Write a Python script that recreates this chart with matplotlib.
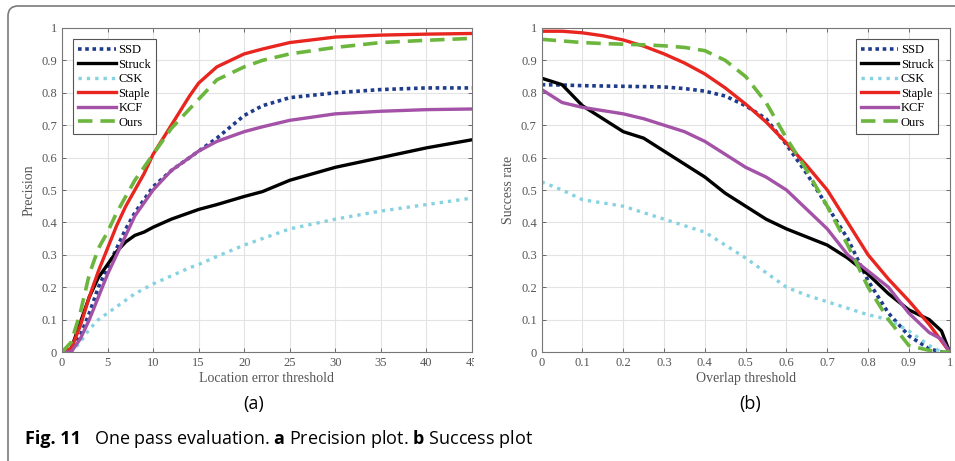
import numpy as np
import matplotlib
matplotlib.use("Agg")
import matplotlib.pyplot as plt
from matplotlib.patches import FancyBboxPatch, Rectangle
from matplotlib.transforms import IdentityTransform

names = ["SSD", "Struck", "CSK", "Staple", "KCF", "Ours"]
colors = ["#1f3c8c", "#000000", "#86d2e0", "#e8251e", "#a352a8", "#6cb63e"]
styles = [(0, (1, 1)), "-", (0, (1, 1.5)), "-", "-", (0, (4, 2.2))]
widths = [2.6, 2.4, 2.4, 2.4, 2.4, 2.6]

# precision plot (location error threshold)
p_x = [0, 1, 2, 3, 4, 5, 6, 7, 8, 9, 10, 12, 14, 15, 17, 20, 22, 25, 30, 35, 40, 45]
p_ssd = [0, 0.0, 0.05, 0.12, 0.2, 0.26, 0.32, 0.38, 0.43, 0.47, 0.51, 0.56, 0.6, 0.62, 0.66, 0.73, 0.76, 0.785, 0.8, 0.81, 0.815, 0.815]
p_struck = [0, 0.01, 0.09, 0.17, 0.23, 0.27, 0.31, 0.34, 0.36, 0.37, 0.385, 0.41, 0.43, 0.44, 0.455, 0.48, 0.495, 0.53, 0.57, 0.6, 0.63, 0.655]
p_csk = [0, 0.0, 0.03, 0.07, 0.1, 0.12, 0.14, 0.16, 0.18, 0.195, 0.21, 0.235, 0.26, 0.27, 0.295, 0.33, 0.35, 0.38, 0.41, 0.435, 0.455, 0.475]
p_staple = [0, 0.01, 0.08, 0.17, 0.25, 0.32, 0.39, 0.45, 0.5, 0.55, 0.61, 0.7, 0.79, 0.83, 0.88, 0.92, 0.935, 0.955, 0.972, 0.978, 0.981, 0.983]
p_kcf = [0, 0.0, 0.04, 0.1, 0.17, 0.24, 0.3, 0.36, 0.42, 0.46, 0.5, 0.56, 0.6, 0.62, 0.65, 0.68, 0.695, 0.715, 0.735, 0.743, 0.748, 0.75]
p_ours = [0, 0.03, 0.12, 0.24, 0.32, 0.37, 0.43, 0.48, 0.53, 0.57, 0.61, 0.69, 0.75, 0.78, 0.84, 0.88, 0.9, 0.92, 0.94, 0.955, 0.962, 0.968]

# success plot (overlap threshold)
s_x = [0, 0.05, 0.1, 0.15, 0.2, 0.25, 0.3, 0.35, 0.4, 0.45, 0.5, 0.55, 0.6, 0.65, 0.7, 0.75, 0.8, 0.85, 0.9, 0.95, 0.98, 1.0]
s_ssd = [0.825, 0.824, 0.822, 0.821, 0.82, 0.819, 0.818, 0.813, 0.805, 0.79, 0.76, 0.72, 0.64, 0.55, 0.45, 0.35, 0.22, 0.12, 0.05, 0.01, 0.0, 0.0]
s_struck = [0.845, 0.825, 0.76, 0.72, 0.68, 0.66, 0.62, 0.58, 0.54, 0.49, 0.45, 0.41, 0.38, 0.355, 0.33, 0.29, 0.24, 0.18, 0.13, 0.1, 0.065, 0.0]
s_csk = [0.525, 0.5, 0.47, 0.46, 0.45, 0.43, 0.41, 0.39, 0.37, 0.33, 0.29, 0.245, 0.2, 0.175, 0.155, 0.135, 0.115, 0.1, 0.065, 0.02, 0.0, 0.0]
s_kcf = [0.81, 0.77, 0.755, 0.745, 0.735, 0.72, 0.7, 0.68, 0.65, 0.61, 0.57, 0.54, 0.5, 0.44, 0.38, 0.3, 0.25, 0.2, 0.12, 0.06, 0.04, 0.0]
s_ours = [0.965, 0.96, 0.955, 0.952, 0.95, 0.948, 0.945, 0.94, 0.93, 0.9, 0.85, 0.77, 0.66, 0.56, 0.45, 0.33, 0.2, 0.1, 0.02, 0.005, 0.0, 0.0]
# Staple is a smooth curve, read at finer steps
st_x = [0, 0.05, 0.1, 0.15, 0.2, 0.25, 0.3, 0.35, 0.4, 0.45, 0.5, 0.55, 0.6, 0.65, 0.7, 0.75, 0.8, 0.85, 0.9, 0.95, 1.0]
st_y = [0.99, 0.99, 0.985, 0.976, 0.963, 0.944, 0.92, 0.892, 0.858, 0.815, 0.765, 0.71, 0.645, 0.575, 0.5, 0.4, 0.3, 0.225, 0.158, 0.085, 0.0]

serif = "Liberation Serif"
sans = "Open Sans"
plt.rcParams["mathtext.fontset"] = "custom"
plt.rcParams["mathtext.rm"] = "Open Sans"
plt.rcParams["mathtext.bf"] = "Open Sans:bold"

fig = plt.figure(figsize=(9.55, 4.61), dpi=100)

# rounded frame round the figure
frame = FancyBboxPatch((8, -60), 1000, 515, boxstyle="round,pad=0,rounding_size=10",
                       transform=IdentityTransform(), fill=False, edgecolor="#7a7a7a", lw=1.2)
fig.add_artist(frame)

ax1 = fig.add_axes([0.0649, 0.2364, 0.4293, 0.7029])
ax2 = fig.add_axes([0.5672, 0.2364, 0.4272, 0.7029])


def style_axes(ax, xmax, xticks, xlabel, ylabel):
    ax.set_xlim(0, xmax)
    ax.set_ylim(0, 1)
    ax.set_xticks(xticks)
    ax.set_yticks(np.arange(0, 1.01, 0.1))
    ax.set_yticklabels(["0", "0.1", "0.2", "0.3", "0.4", "0.5", "0.6", "0.7", "0.8", "0.9", "1"])
    ax.grid(True, color="#e3e3e3", lw=0.8)
    ax.set_axisbelow(True)
    ax.tick_params(direction="in", top=True, right=True, length=3, width=0.6,
                   colors="#555555", labelsize=9, labelcolor="#555555")
    for lab in ax.get_xticklabels() + ax.get_yticklabels():
        lab.set_fontfamily(serif)
    for s in ax.spines.values():
        s.set_color("#777777")
        s.set_linewidth(0.8)
    ax.set_xlabel(xlabel, fontfamily=serif, fontsize=10, color="#555555", labelpad=2)
    ax.set_ylabel(ylabel, fontfamily=serif, fontsize=10, color="#555555", labelpad=4)


series1 = [p_ssd, p_struck, p_csk, p_staple, p_kcf, p_ours]
for n, c, ls, w, y in zip(names, colors, styles, widths, series1):
    ax1.plot(p_x, y, color=c, ls=ls, lw=w, label=n)
style_axes(ax1, 45, np.arange(0, 46, 5), "Location error threshold", "Precision")

series2 = [(s_x, s_ssd), (s_x, s_struck), (s_x, s_csk), (st_x, st_y), (s_x, s_kcf), (s_x, s_ours)]
for n, c, ls, w, (xx, y) in zip(names, colors, styles, widths, series2):
    ax2.plot(xx, y, color=c, ls=ls, lw=w, label=n)
style_axes(ax2, 1, np.arange(0, 1.01, 0.1), "Overlap threshold", "Success rate")
ax2.set_xticklabels(["0", "0.1", "0.2", "0.3", "0.4", "0.5", "0.6", "0.7", "0.8", "0.9", "1"])
for lab in ax2.get_xticklabels():
    lab.set_fontfamily(serif)

for ax, loc in [(ax1, "upper left"), (ax2, "upper right")]:
    leg = ax.legend(loc=loc, prop={"family": serif, "size": 9}, handlelength=3.0,
                    handletextpad=0.2, labelspacing=0.2, borderpad=0.4,
                    fancybox=False, framealpha=1, edgecolor="#555555",
                    borderaxespad=0.9)
    leg.get_frame().set_linewidth(0.8)

# the left panel was cut off at its right edge (hides half of the "45" label)
fig.add_artist(Rectangle((474, 88), 12, 22, transform=IdentityTransform(),
                         facecolor="white", edgecolor="none", zorder=10))

fig.text(254 / 955, 1 - 404 / 461, "(a)", family=sans, fontsize=13, ha="center", va="center")
fig.text(750 / 955, 1 - 404 / 461, "(b)", family=sans, fontsize=13, ha="center", va="center")

cap_y = 1 - 439 / 461
fig.text(25 / 955, cap_y, "Fig. 11", family=sans, fontsize=13, fontweight="bold", va="center")
fig.text(94 / 955, cap_y, r"One pass evaluation. $\mathbf{a}$ Precision plot. $\mathbf{b}$ Success plot",
         family=sans, fontsize=13, va="center")

fig.savefig("out.png", dpi=100)
